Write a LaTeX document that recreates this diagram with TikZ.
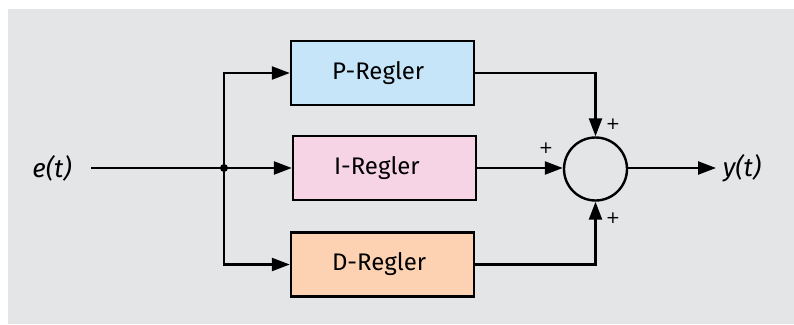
\documentclass[tikz,border=0pt]{standalone}
\usepackage{fontspec}
\setmainfont{Fira Sans}
\newfontfamily\dvfont{DejaVu Sans}
\usetikzlibrary{arrows.meta}
\definecolor{bg}{HTML}{E4E5E7}
\definecolor{pfill}{HTML}{C6E5F9}
\definecolor{ifill}{HTML}{F7D3E6}
\definecolor{dfill}{HTML}{FDD2B3}
\begin{document}
\begin{tikzpicture}[x=1pt,y=-1pt,
  reglerbox/.style={draw=black,line width=2.4pt,minimum width=183pt,minimum height=64pt,inner sep=0pt,text width=101pt,align=left,font=\fontsize{24}{28}\selectfont},
  conn/.style={line width=2.4pt},
  arr/.style={conn,-{Triangle[length=18pt,width=13pt]}},
  sig/.style={font=\fontsize{26}{30}\selectfont\itshape,inner sep=0pt},
  plus/.style={font=\dvfont\fontsize{17}{19}\selectfont,inner sep=0pt}]
\useasboundingbox (0,0) rectangle (794,324);
\fill[bg] (8,9) rectangle (794,324);
\node[reglerbox,fill=pfill] (P) at (382.5,73) {P-Regler};
\node[reglerbox,fill=ifill] (I) at (384.5,168) {I-Regler};
\node[reglerbox,fill=dfill] (D) at (382.5,264.5) {D-Regler};
\node[draw=black,line width=2.4pt,circle,minimum size=63pt,inner sep=0pt] (S) at (595.5,169) {};
\node[sig] (e) at (52,168) {e(t)};
\node[sig] (y) at (742,168) {y(t)};
\coordinate (j) at (224,168);
\coordinate (ein) at (91,168);
\coordinate (yout) at (716,168);
\node[plus] (p1) at (613,124) {+};
\node[plus] (p2) at (546,148) {+};
\node[plus] (p3) at (613,218) {+};
\draw[conn] (ein) -- (j);
\fill (j) circle (4pt);
\draw[arr] (j) -- (I.west);
\draw[arr] (j) |- (P.west);
\draw[arr] (j) |- (D.west);
\draw[arr] (P.east) -| (S.north);
\draw[arr] (D.east) -| (S.south);
\draw[arr] (I.east) -- (S.west |- I.east);
\draw[arr] (S.east |- I.east) -- (yout);
\end{tikzpicture}
\end{document}
